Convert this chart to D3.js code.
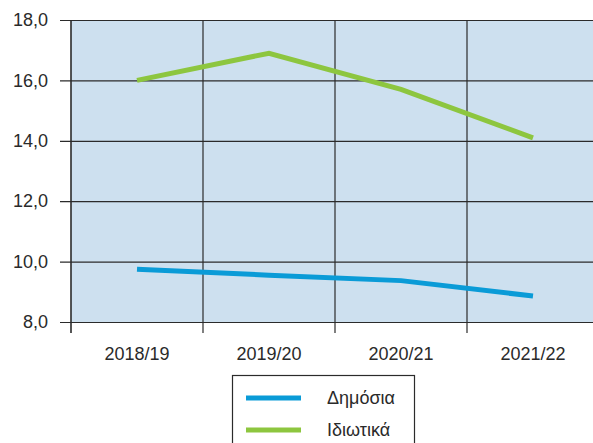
<!DOCTYPE html>
<html>
<head>
<meta charset="utf-8">
<script src="https://cdn.jsdelivr.net/npm/d3@7"></script>
<style>
  body { margin: 0; background: #fff; }
  svg { display: block; font-family: "Liberation Sans", Arial, sans-serif; }
</style>
</head>
<body>
<script>
'use strict';

// chart data
const years = ["2018/19", "2019/20", "2020/21", "2021/22"];
const publicValues = [9.75, 9.55, 9.37, 8.86];   // Δημόσια
const privateValues = [16.0, 16.9, 15.7, 14.1];  // Ιδιωτικά
const yTicks = [8, 10, 12, 14, 16, 18];
const seriesNames = ["Δημόσια", "Ιδιωτικά"];
const seriesColors = ["#0a9bd7", "#8dc63f"];

const width = 593, height = 443;

let svg = d3.select('body').append('svg')
  .attr('width', width)
  .attr('height', height);

// x uses bands so points sit between the vertical grid lines
let x = d3.scaleBand()
  .domain(years)
  .range([71, 599]);

let y = d3.scaleLinear()
  .domain([8, 18])
  .range([322, 20]);

// plot background
svg.append('rect')
  .attr('x', x.range()[0])
  .attr('y', y(18))
  .attr('width', x.range()[1] - x.range()[0])
  .attr('height', y(8) - y(18))
  .attr('fill', '#cde0ef');

// horizontal grid + y ticks
let yAxis = d3.axisLeft(y)
  .tickValues(yTicks)
  .tickSize(-(x.range()[1] - 60))
  .tickPadding(12)
  .tickFormat(d => d3.format('.1f')(d).replace('.', ','));

let gy = svg.append('g')
  .attr('transform', 'translate(60,0)')
  .call(yAxis);
gy.select('.domain').remove();
gy.attr('font-size', null).attr('font-family', null);
gy.selectAll('.tick line').attr('stroke', '#2b2b2b').attr('stroke-width', 1.2);
gy.selectAll('.tick text')
  .style('font-size', '18px')
  .attr('fill', '#2a2a2a');

// vertical grid lines at band boundaries, extended below as ticks
let bounds = years.map(d => x(d));
svg.selectAll('.vgrid')
  .data(bounds)
  .enter()
  .append('line')
  .attr('class', 'vgrid')
  .attr('x1', d => d)
  .attr('x2', d => d)
  .attr('y1', y(18))
  .attr('y2', y(8) + 11)
  .attr('stroke', '#2b2b2b')
  .attr('stroke-width', d => d === x.range()[0] ? 1.6 : 1.2);

// category labels
svg.selectAll('.xlab')
  .data(years)
  .enter()
  .append('text')
  .attr('x', d => x(d) + x.bandwidth() / 2)
  .attr('y', 360)
  .attr('text-anchor', 'middle')
  .style('font-size', '18px')
  .attr('fill', '#2a2a2a')
  .text(d => d);

// lines
let line = d3.line()
  .x((d, i) => x(years[i]) + x.bandwidth() / 2)
  .y(d => y(d));

[publicValues, privateValues].forEach((vals, i) => {
  svg.append('path')
    .datum(vals)
    .attr('d', line)
    .attr('fill', 'none')
    .attr('stroke', seriesColors[i])
    .attr('stroke-width', 5);
});

// legend
let legend = svg.append('g');
legend.append('rect')
  .attr('x', 232.5)
  .attr('y', 375.5)
  .attr('width', 182)
  .attr('height', 80)
  .attr('fill', '#fff')
  .attr('stroke', '#2b2b2b')
  .attr('stroke-width', 1.2);

seriesNames.forEach((name, i) => {
  let ly = 398 + i * 32;
  legend.append('line')
    .attr('x1', 246)
    .attr('x2', 301)
    .attr('y1', ly)
    .attr('y2', ly)
    .attr('stroke', seriesColors[i])
    .attr('stroke-width', 5);
  legend.append('text')
    .attr('x', 327)
    .attr('y', ly + 6)
    .style('font-size', '18px')
    .attr('fill', '#2a2a2a')
    .text(name);
});
</script>
</body>
</html>
